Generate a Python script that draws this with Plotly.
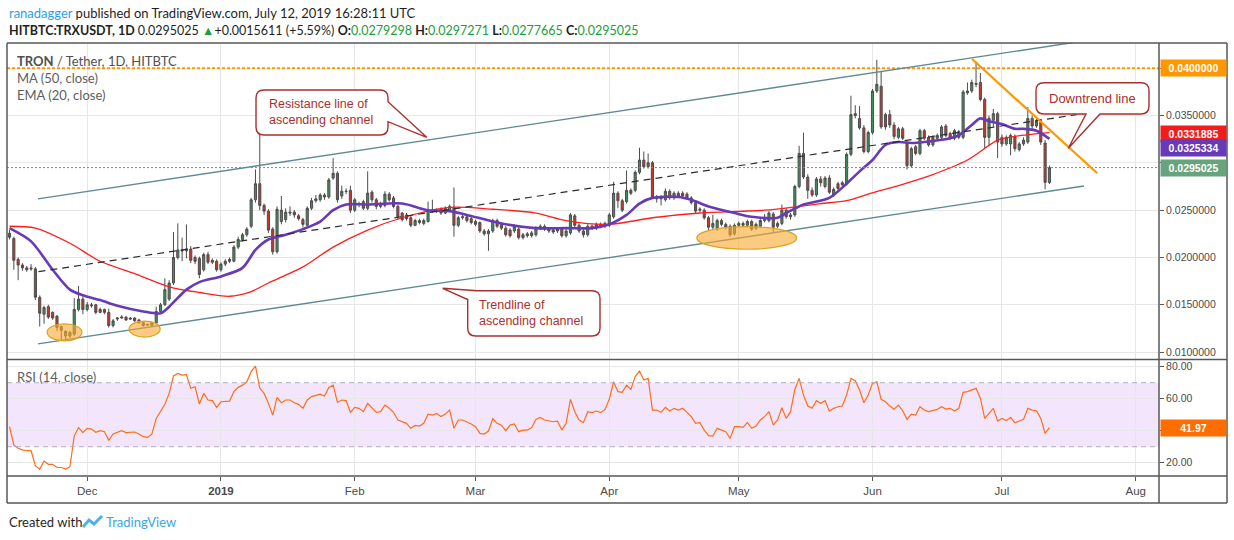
import plotly.graph_objects as go
import pandas as pd

# ---------------- data ----------------
start_date = "2018-11-13"

opens = [
 .02256,.0220,.0198,.0192,.0189,.0189,.0188,.0158,.0140,.0148,
 .0142,.0138,.0127,.0117,.0117,.0119,.0145,.0156,.0145,.0150,
 .0150,.0142,.0145,.0142,.0128,.0135,.0136,.0137,.0136,.0136,
 .0134,.0131,.01292,.0128,.0131,.0143,.0150,.0156,.0173,.0200,
 .0208,.0209,.0209,.0200,.0199,.0187,.0203,.0197,.0196,.0187,
 .0193,.0198,.0196,.0211,.0219,.0224,.0233,.0261,.0278,.0255,
 .0249,.0230,.0206,.0238,.0240,.0248,.0248,.0244,.0240,.0234,
 .0252,.0260,.0261,.0266,.0264,.0284,.0289,.0265,.02702,.0271,
 .0250,.0257,.0259,.0252,.0269,.0261,.0254,.0255,.0267,.0263,
 .0254,.0247,.0245,.0242,.0234,.0239,.0236,.0238,.0250,.0250,
 .0251,.0247,.0250,.0253,.0234,.0242,.0243,.0241,.0238,.0237,
 .0228,.0225,.0228,.0239,.0235,.0231,.0229,.0228,.0230,.0224,
 .0225,.0223,.0224,.0231,.0233,.0230,.0229,.0228,.0230,.0223,
 .0226,.0244,.0234,.0228,.0224,.0233,.0231,.0235,.0236,.0234,
 .0243,.0268,.0260,.0259,.0271,.0271,.0290,.0303,.0296,.0300,
 .0264,.0264,.0261,.0270,.0263,.0268,.0268,.0267,.0263,.0258,
 .0250,.0250,.0242,.0232,.0230,.0239,.0235,.0233,.0225,.0236,
 .0234,.0234,.0238,.0231,.0233,.0239,.0239,.0246,.0233,.0236,
 .0250,.0243,.0245,.0275,.0310,.0285,.0271,.0266,.0283,.0275,
 .0284,.0266,.0278,.0279,.0278,.0309,.0350,.0347,.0337,.0312,
 .0332,.0376,.0381,.0351,.0351,.0340,.0327,.0336,.0321,.0297,
 .0317,.0310,.0334,.0327,.0319,.0326,.0327,.0339,.0331,.0326,
 .0333,.0327,.0374,.0376,.0384,.0385,.0367,.0327,.0345,.0352,
 .0327,.0320,.0320,.0328,.0314,.0320,.0322,.0347,.0339,.0343,
 .0321,.0279298]

closes = [
 .02214,.0197,.0192,.0189,.0187,.0188,.0158,.0141,.0147,.0137,
 .0136,.0126,.0123,.0122,.0121,.0145,.0156,.0145,.0150,.0149,
 .0142,.0145,.0142,.0128,.0133,.0136,.0137,.0134,.0135,.0133,
 .0131,.0128,.01288,.0131,.0143,.0150,.0166,.0173,.0200,.0208,
 .0207,.0207,.0197,.0196,.0182,.0203,.0195,.0195,.0187,.0193,
 .0196,.0196,.0211,.0219,.0224,.0230,.0261,.0278,.0255,.0249,
 .0229,.0206,.0251,.0250,.0248,.0247,.0245,.0241,.0235,.0252,
 .0260,.0262,.0266,.0264,.0282,.0289,.0261,.0270,.02698,.0250,
 .0261,.0256,.0252,.0268,.0261,.0254,.0257,.0267,.0261,.0254,
 .0243,.0240,.0241,.0234,.0239,.0237,.0239,.0250,.0249,.0249,
 .0247,.0252,.0254,.0234,.0242,.0243,.0239,.0237,.0235,.0228,
 .0225,.0228,.0239,.0233,.0231,.0224,.0223,.0233,.0221,.0221,
 .0223,.0226,.0231,.0233,.0230,.0228,.0227,.0230,.0223,.0228,
 .0245,.0234,.0228,.0224,.0233,.0231,.0235,.0233,.0233,.0245,
 .0268,.0260,.0250,.0271,.0268,.0290,.0303,.0296,.0300,.0264,
 .0262,.0262,.0270,.0263,.0268,.0265,.0265,.0263,.0258,.0249,
 .0251,.0242,.0232,.0236,.0239,.0235,.0232,.0224,.0234,.0234,
 .0236,.0238,.0230,.0235,.0239,.0240,.0247,.0232,.0236,.0250,
 .0243,.0245,.0275,.0310,.0285,.0271,.0266,.0283,.0279,.0284,
 .0269,.0272,.0273,.0277,.0309,.0351,.0352,.0337,.0312,.0332,
 .0376,.0383,.0338,.0338,.0340,.0328,.0336,.0326,.0297,.0315,
 .0310,.0334,.0326,.0319,.0327,.0329,.0338,.0329,.0326,.0334,
 .0327,.0375,.0376,.0385,.0383,.0367,.0327,.0347,.0352,.0322,
 .0320,.0327,.0329,.0315,.0320,.0324,.0347,.0339,.0344,.0322,
 .0279414,.0295025]

highs = [
 .0229,.0222,.0200,.0194,.0191,.0193,.0190,.0160,.0149,.0150,
 .0143,.0139,.0128,.0123,.0122,.0157,.0170,.0159,.0153,.0152,
 .0151,.0147,.0146,.0146,.0135,.0137,.0139,.0138,.0137,.0137,
 .0135,.0132,.0130,.0132,.0148,.0152,.0178,.0176,.0227,.0236,
 .0221,.0235,.0212,.0202,.0201,.0205,.0206,.0199,.0198,.0195,
 .0198,.0200,.0213,.0222,.0226,.0232,.0263,.0293,.0344,.0257,
 .0251,.0232,.0254,.0265,.0252,.0254,.0250,.0246,.0242,.0254,
 .0263,.0266,.0268,.0268,.0284,.0305,.0291,.0276,.0273,.0276,
 .0263,.0259,.0261,.0291,.0271,.0263,.0259,.0270,.0269,.0265,
 .0256,.0248,.0247,.0244,.0241,.0241,.0241,.0259,.0261,.0252,
 .0253,.0254,.0256,.0274,.0244,.0245,.0245,.0243,.0240,.0238,
 .0230,.0230,.0241,.0241,.0237,.0233,.0231,.0235,.0232,.0226,
 .0227,.0228,.0233,.0235,.0235,.0232,.0231,.0232,.0232,.0230,
 .0247,.0246,.0236,.0230,.0235,.0235,.0237,.0237,.0238,.0247,
 .0280,.0270,.0262,.0292,.0273,.0292,.0316,.0312,.0310,.0302,
 .0266,.0266,.0273,.0272,.0270,.0270,.0270,.0269,.0265,.0260,
 .0253,.0252,.0244,.0245,.0241,.0241,.0237,.0235,.0236,.0238,
 .0238,.0240,.0240,.0237,.0241,.0246,.0249,.0248,.0238,.0256,
 .0252,.0247,.0277,.0318,.0332,.0288,.0274,.0285,.0286,.0286,
 .0287,.0274,.0280,.0281,.0311,.0371,.0361,.0360,.0340,.0334,
 .0378,.0409,.0397,.0353,.0356,.0343,.0338,.0338,.0323,.0317,
 .0319,.0336,.0336,.0329,.0329,.0331,.0340,.0341,.0333,.0336,
 .0335,.0377,.0385,.0388,.0407,.0395,.0369,.0350,.0357,.0354,
 .0330,.0329,.0331,.0330,.0322,.0327,.0359,.0350,.0347,.0346,
 .0324,.0297271]

lows = [
 .0219,.0187,.0176,.0186,.0185,.0186,.0155,.0127,.0130,.0135,
 .0134,.0122,.0112,.0113,.0115,.0117,.0143,.0140,.0143,.0147,
 .0140,.0141,.0140,.0126,.0126,.0133,.0135,.0133,.0134,.0132,
 .0130,.0127,.0128,.0127,.0130,.0142,.0149,.0154,.0171,.0198,
 .0196,.0199,.0194,.0193,.0178,.0185,.0193,.0193,.0185,.0185,
 .0191,.0194,.0195,.0209,.0217,.0222,.0231,.0258,.0250,.0245,
 .0226,.0203,.0204,.0235,.0237,.0244,.0242,.0239,.0232,.0233,
 .0250,.0258,.0259,.0261,.0262,.0282,.0258,.0262,.0267,.0247,
 .0248,.0253,.0250,.0250,.0258,.0251,.0252,.0253,.0259,.0252,
 .0240,.0238,.0239,.0232,.0233,.0235,.0234,.0237,.0247,.0247,
 .0245,.0246,.0248,.0222,.0232,.0240,.0237,.0235,.0233,.0226,
 .0223,.0207,.0226,.0231,.0229,.0222,.0221,.0226,.0219,.0219,
 .0221,.0221,.0222,.0229,.0228,.0226,.0225,.0226,.0221,.0221,
 .0224,.0232,.0226,.0221,.0222,.0229,.0229,.0231,.0231,.0232,
 .0241,.0252,.0248,.0257,.0266,.0269,.0288,.0294,.0294,.0262,
 .0258,.0255,.0259,.0261,.0261,.0263,.0263,.0261,.0256,.0246,
 .0248,.0240,.0229,.0230,.0228,.0233,.0230,.0222,.0223,.0232,
 .0232,.0232,.0228,.0229,.0231,.0237,.0237,.0227,.0231,.0234,
 .0241,.0240,.0243,.0273,.0283,.0262,.0264,.0264,.0275,.0273,
 .0267,.0264,.0271,.0275,.0276,.0307,.0347,.0335,.0310,.0310,
 .0330,.0374,.0336,.0335,.0337,.0325,.0325,.0324,.0293,.0295,
 .0308,.0308,.0324,.0317,.0317,.0324,.0325,.0327,.0324,.0324,
 .0325,.0325,.0372,.0374,.0380,.0365,.0315,.0318,.0338,.0305,
 .0317,.0318,.0308,.0312,.0312,.0318,.0320,.0336,.0337,.0319,
 .0272,.0277665]

rsi_vals = [
 42.5,31,29,28,27.5,27.5,18,16,21,19,
 19,17,17,16,17.5,36.7,42,38.8,41.5,41,
 39,40,39.4,34,38,39,40,38.8,38.8,39.2,
 38,36.3,35.8,38,47.7,51.9,56.5,63.3,74.2,75.8,
 74.8,75,66.5,67.5,56.7,63.3,59.2,58.8,54.6,58.1,
 58.5,58.5,64.4,67.1,68.5,70.6,76.9,80.4,66.5,63.3,
 57.1,49.8,60.8,57.5,59.2,59.2,57.5,56.5,54,59.2,
 61.3,61.9,62.9,61.7,67.1,68.5,57.7,59.2,58.8,51.5,
 54.6,54,51.9,57.1,54.4,51.5,51.9,56,54,51.5,
 46.7,45.6,44.6,41.5,43.3,42.9,44.6,50.4,49.8,50.8,
 48.8,50.4,52.9,41.5,46.7,46.7,45.6,44.2,42.5,38.3,
 37.9,39.8,47.5,44.6,43.5,40,43.5,44.2,39.4,40.4,
 40.4,41.9,47.1,48.3,46.7,46,45.6,46,40.4,44.6,
 59.6,51.9,46.7,45,51.9,51.3,52.3,51.3,53.3,59.6,
 70.6,64.4,64,68.5,65.8,73.8,77.3,71.7,72.7,52.9,
 52.9,51.5,54.6,52.3,54,52.9,54,51.5,48.8,44.6,
 45,40.4,36.9,36.7,41.5,40.4,39.4,35.2,42.5,42.5,
 42.1,45.2,41.5,42.9,46.7,48.8,51.9,43.5,46.7,54.4,
 47.7,51.9,65.8,72.7,62.3,55.4,54,58.8,57.1,58.8,
 52.3,54,55,55.4,62.3,72.7,71.3,65.4,57.5,62.3,
 69.6,70.6,59.6,58.1,55.4,53.5,56,52.5,47.1,50.4,
 49.8,55,52.9,51.9,52.5,53.3,55,53.5,54,52.3,
 54,64,64.4,65.4,66.5,60.2,47.7,50.8,54,46,
 47.7,46.3,48.3,45,46,47.1,54,52.9,52.5,47.7,
 38.3,41.97]

ema20_dates = ['2018-11-13','2018-11-18','2018-11-23','2018-11-27','2018-11-30','2018-12-04','2018-12-08',
 '2018-12-14','2018-12-18','2018-12-20','2018-12-24','2018-12-27','2019-01-01','2019-01-06','2019-01-09',
 '2019-01-12','2019-01-16','2019-01-20','2019-01-24','2019-01-27','2019-01-30','2019-02-04','2019-02-12',
 '2019-02-18','2019-02-23','2019-02-27','2019-03-07','2019-03-15','2019-03-22','2019-03-28','2019-04-01',
 '2019-04-05','2019-04-08','2019-04-11','2019-04-17','2019-04-20','2019-04-24','2019-04-30','2019-05-04',
 '2019-05-10','2019-05-12','2019-05-16','2019-05-18','2019-05-22','2019-05-26','2019-05-29','2019-06-01',
 '2019-06-04','2019-06-07','2019-06-10','2019-06-13','2019-06-19','2019-06-21','2019-06-24','2019-06-26',
 '2019-06-28','2019-07-01','2019-07-04','2019-07-06','2019-07-09','2019-07-12']
ema20_vals = [.0231,.0217,.0187,.0166,.0160,.0155,.0149,.0143,.0141,.0148,.0166,.0174,.0180,.0189,.0208,
 .0219,.0224,.0230,.0238,.0250,.0256,.0256,.0257,.0250,.0249,.0245,.0236,.0231,.0231,.0231,.0235,
 .0245,.0257,.0263,.0264,.0261,.0254,.0247,.0243,.0242,.0247,.0256,.0258,.0263,.0278,.0291,.0303,
 .0319,.0322,.0321,.0322,.0326,.0329,.0340,.0347,.0344,.0341,.0336,.0336,.0334,.0325334]

ma50_dates = ['2018-11-13','2018-11-19','2018-11-27','2018-12-04','2018-12-12','2018-12-20','2018-12-27',
 '2019-01-03','2019-01-08','2019-01-12','2019-01-20','2019-01-27','2019-02-04','2019-02-12','2019-02-23',
 '2019-03-05','2019-03-15','2019-03-22','2019-04-01','2019-04-11','2019-04-22','2019-05-07','2019-05-15',
 '2019-05-20','2019-05-26','2019-05-31','2019-06-07','2019-06-14','2019-06-23','2019-06-30','2019-07-04',
 '2019-07-12']
ma50_vals = [.0233,.0231,.0215,.0196,.0183,.0169,.0163,.0159,.0164,.0173,.0190,.0211,.0229,.0242,.0253,
 .0251,.0247,.0239,.0235,.0242,.0247,.0250,.0254,.0257,.0260,.0267,.0276,.0286,.0303,.0324,.0328,
 .0331885]

# drawn channel / trend lines (dates, prices)
channel_dates = ['2018-11-19 14:00', '2019-07-20 00:00']
channel_upper = [.02619, .04289]
channel_lower = [.01087, .02756]
midline_dates = ['2018-11-19 17:00', '2019-07-18 07:00']
midline_vals = [.0185, .0351]
downtrend_dates = ['2019-06-24 02:00', '2019-07-23 02:00']
downtrend_vals = [.04098, .0289]
ellipse_boxes = [  # (date0, date1, price_low, price_high)
    ('2018-11-21 17:00', '2018-11-29 19:00', .01119, .01299),
    ('2018-12-10 17:00', '2018-12-17 22:00', .01159, .01328),
    ('2019-04-21 07:00', '2019-05-14 10:00', .02087, .02326),
]
level_resist = 0.04
last_price = 0.0295025
ma50_last = 0.0331885
ema20_last = 0.0325334
rsi_last = 41.97

month_ticks = ['2018-12-01','2019-01-01','2019-02-01','2019-03-01','2019-04-01',
               '2019-05-01','2019-06-01','2019-07-01','2019-08-01']
month_labels = ['Dec','<b>2019</b>','Feb','Mar','Apr','May','Jun','Jul','Aug']
price_ticks = [0.01,0.015,0.02,0.025,0.03,0.035,0.04]
price_labels = ['0.0100000','0.0150000','0.0200000','0.0250000','','0.0350000','']
rsi_ticks = [20,40,60,80]
rsi_labels = ['20.00','','60.00','80.00']

dates = pd.date_range(start_date, periods=len(closes), freq='D')

# ---------------- layout helpers (pixel -> paper) ----------------
W, H = 1234, 540
L, R, T, B = 7, 75, 43, 64
PW, PH = W - L - R, H - T - B
def px(x): return (x - L) / PW
def py(y): return (H - B - y) / PH
def P(x, y): return f"{px(x):.5f},{py(y):.5f}"

FR = '#575757'
GRID = '#e7e7e7'
TXT = '#4a4a4a'
CALL = '#a8302f'
FONT = 'Liberation Sans'

fig = go.Figure()

fig.add_trace(go.Candlestick(
    x=dates, open=opens, high=highs, low=lows, close=closes,
    increasing=dict(fillcolor='#3f8f5d', line=dict(color='#4d4d4d', width=1)),
    decreasing=dict(fillcolor='#c8372b', line=dict(color='#4d4d4d', width=1)),
    whiskerwidth=0, hoverinfo='skip', showlegend=False, xaxis='x', yaxis='y'))

fig.add_trace(go.Scatter(x=ma50_dates, y=ma50_vals, mode='lines',
    line=dict(color='#ff1d1d', width=1.3, shape='spline', smoothing=0.8),
    hoverinfo='skip', showlegend=False, xaxis='x', yaxis='y'))
fig.add_trace(go.Scatter(x=ema20_dates, y=ema20_vals, mode='lines',
    line=dict(color='#673ab7', width=2.6, shape='spline', smoothing=0.8),
    hoverinfo='skip', showlegend=False, xaxis='x', yaxis='y'))

fig.add_trace(go.Scatter(x=dates, y=rsi_vals, mode='lines',
    line=dict(color='#ff6d1a', width=1.2),
    hoverinfo='skip', showlegend=False, xaxis='x2', yaxis='y2'))

xr = ['2018-11-12 10:00', '2019-08-06 09:30']

fig.update_layout(
    width=W, height=H, margin=dict(l=L, r=R, t=T, b=B),
    paper_bgcolor='white', plot_bgcolor='white', showlegend=False,
    font=dict(family=FONT, color=TXT),
    xaxis=dict(domain=[0, 1], anchor='y', type='date', range=xr,
               tickvals=month_ticks, showticklabels=False, ticks='',
               showgrid=True, gridcolor=GRID, gridwidth=1, zeroline=False,
               showline=False, rangeslider=dict(visible=False)),
    xaxis2=dict(domain=[0, 1], anchor='y2', type='date', range=xr, matches='x',
                tickvals=month_ticks, ticktext=month_labels, ticks='outside',
                ticklen=4, tickcolor=FR, tickfont=dict(size=11.5, color=TXT, family=FONT),
                showgrid=True, gridcolor=GRID, gridwidth=1, zeroline=False, showline=False),
    yaxis=dict(domain=[(476 - 359) / PH, 1], anchor='x', side='right',
               range=[0.00927, 0.04267], tickvals=price_ticks, ticktext=price_labels,
               ticks='outside', ticklen=4, tickcolor=FR,
               tickfont=dict(size=10.5, color=TXT, family=FONT),
               showgrid=True, gridcolor=GRID, zeroline=False, showline=False),
    yaxis2=dict(domain=[0, (476 - 360) / PH], anchor='x2', side='right',
                range=[11.7, 84.2], tickvals=rsi_ticks, ticktext=rsi_labels,
                ticks='outside', ticklen=4, tickcolor=FR,
                tickfont=dict(size=10.5, color=TXT, family=FONT),
                showgrid=True, gridcolor=GRID, zeroline=False, showline=False),
)

shapes = []
# RSI band
shapes.append(dict(type='rect', xref='x2 domain', yref='y2', x0=0, x1=1, y0=30, y1=70,
                   fillcolor='#f3e6fc', line=dict(width=0), layer='below'))
for lv in (30, 70):
    shapes.append(dict(type='line', xref='x2 domain', yref='y2', x0=0, x1=1, y0=lv, y1=lv,
                       line=dict(color='#b4adbb', width=1, dash='5px,4px')))
# channel fill
shapes.append(dict(type='path', xref='x', yref='y', layer='below',
    path=f"M {channel_dates[0]},{channel_lower[0]} L {channel_dates[1]},{channel_lower[1]} "
         f"L {channel_dates[1]},{channel_upper[1]} L {channel_dates[0]},{channel_upper[0]} Z",
    fillcolor='rgba(110,125,150,0.10)', line=dict(width=0)))
# horizontal levels
shapes.append(dict(type='line', xref='x domain', yref='y', x0=0, x1=1, y0=last_price, y1=last_price,
                   line=dict(color='#4ea56f', width=1, dash='2px,2px')))
shapes.append(dict(type='line', xref='x domain', yref='y', x0=0, x1=1, y0=level_resist, y1=level_resist,
                   line=dict(color='#ff9800', width=2, dash='3px,2px')))
# channel lines and midline
for yy in (channel_upper, channel_lower):
    shapes.append(dict(type='line', xref='x', yref='y', x0=channel_dates[0], x1=channel_dates[1],
                       y0=yy[0], y1=yy[1], line=dict(color='#5e8a94', width=1.4)))
shapes.append(dict(type='line', xref='x', yref='y', x0=midline_dates[0], x1=midline_dates[1],
                   y0=midline_vals[0], y1=midline_vals[1],
                   line=dict(color='#2b2b2b', width=1.2, dash='7px,5px')))
# ellipses
for d0, d1, p0, p1 in ellipse_boxes:
    shapes.append(dict(type='circle', xref='x', yref='y', x0=d0, x1=d1, y0=p0, y1=p1,
                       fillcolor='rgba(250,170,50,0.62)', line=dict(color='#d9a520', width=1.2)))
# downtrend line
shapes.append(dict(type='line', xref='x', yref='y', x0=downtrend_dates[0], x1=downtrend_dates[1],
                   y0=downtrend_vals[0], y1=downtrend_vals[1], line=dict(color='#ff9800', width=2.2)))

# callout boxes (paper)
res_path = (f"M {P(264,90)} L {P(380,90)} Q {P(388,90)} {P(388,98)} L {P(388,101.7)} "
            f"L {P(426.7,137.3)} L {P(388,121.7)} L {P(388,127)} Q {P(388,135)} {P(380,135)} "
            f"L {P(264,135)} Q {P(256,135)} {P(256,127)} L {P(256,98)} Q {P(256,90)} {P(264,90)} Z")
tr_path = (f"M {P(477,290.7)} L {P(592,290.7)} Q {P(600,290.7)} {P(600,298.7)} L {P(600,328)} "
           f"Q {P(600,336)} {P(592,336)} L {P(475.7,336)} Q {P(467.7,336)} {P(467.7,328)} "
           f"L {P(467.7,299.5)} L {P(442.7,288.3)} L {P(477,290.7)} Z")
dt_path = (f"M {P(1044,82.7)} L {P(1141,82.7)} Q {P(1149,82.7)} {P(1149,90.7)} L {P(1149,106)} "
           f"Q {P(1149,114)} {P(1141,114)} L {P(1100,114)} L {P(1068.3,148.3)} L {P(1086,114)} "
           f"L {P(1044,114)} Q {P(1036,114)} {P(1036,106)} L {P(1036,90.7)} Q {P(1036,82.7)} {P(1044,82.7)} Z")
for pth in (res_path, tr_path, dt_path):
    shapes.append(dict(type='path', xref='paper', yref='paper', path=pth,
                       fillcolor='white', line=dict(color=CALL, width=1.4)))

# frame lines
def hline(y, x0=7, x1=1227):
    return dict(type='line', xref='paper', yref='paper', x0=px(x0), x1=px(x1), y0=py(y), y1=py(y),
                line=dict(color=FR, width=1.5))
def vline(x, y0=43, y1=503):
    return dict(type='line', xref='paper', yref='paper', x0=px(x), x1=px(x), y0=py(y0), y1=py(y1),
                line=dict(color=FR, width=1.5))
shapes += [hline(43), hline(359.5), hline(476), hline(503), vline(7), vline(1159), vline(1227)]
# TradingView logo mark
shapes.append(dict(type='path', xref='paper', yref='paper',
                   path=f"M {P(83,527)} L {P(89,520)} L {P(94,524)} L {P(102,516)}",
                   line=dict(color='#4db2e8', width=3)))
fig.update_layout(shapes=shapes)

ann = []
def text(x, y, s, size=13, color='#1f1f1f', anchor='left', family='Lato', **kw):
    ann.append(dict(xref='paper', yref='paper', x=px(x), y=py(y), text=s, showarrow=False,
                    xanchor=anchor, yanchor='middle', font=dict(size=size, color=color, family=family), **kw))

G = '#1d9c3b'
text(7, 13, "<span style='color:#2d9fea'>ranadagger</span> published on TradingView.com, July 12, 2019 16:28:11 UTC", 13)
text(7, 30, f"<b>HITBTC:TRXUSDT, 1D</b> 0.0295025 <span style='color:{G}'>▲</span>+0.0015611 (+5.59%) "
            f"<b>O:</b><span style='color:{G}'>0.0279298</span> <b>H:</b><span style='color:{G}'>0.0297271</span> "
            f"<b>L:</b><span style='color:{G}'>0.0277665</span> <b>C:</b><span style='color:{G}'>0.0295025</span>", 12.5)
text(15, 61, "<b>TRON</b> / Tether, 1D, HITBTC", 13, '#505050')
text(15, 78, "MA (50, close)", 13, '#606060')
text(15, 95, "EMA (20, close)", 13, '#606060')
text(15, 377, "RSI (14, close)", 13, '#606060')
text(7, 522, "Created with", 13, '#1f1f1f')
text(104, 522, "TradingView", 13, '#3aa6e2')

# callout texts
text(267, 111.5, "Resistance line of<br>ascending channel", 12.5, CALL, family=FONT, align='left')
text(477, 312.5, "Trendline of<br>ascending channel", 12.5, CALL, family=FONT, align='left')
text(1092.5, 98, "Downtrend line", 13, CALL, anchor='center', family=FONT)

# right axis value boxes
def tag(yv, s, bg, yref='y', yshift=0):
    ann.append(dict(xref='paper', yref=yref, x=1.0, y=yv, xanchor='left', yanchor='middle',
                    text=f"<b>{s}</b>", showarrow=False, xshift=1, yshift=yshift,
                    bgcolor=bg, width=65, height=16, borderpad=0, align='center',
                    font=dict(size=10.5, color='white', family=FONT)))
tag(level_resist, f"{level_resist:.7f}", '#ff9800')
tag(ma50_last, f"{ma50_last:.7f}", '#f21c1c', yshift=-1)
tag(ema20_last, f"{ema20_last:.7f}", '#673ab7', yshift=-9)
tag(last_price, f"{last_price:.7f}", '#66a47e')
tag(rsi_last, f"{rsi_last:.2f}", '#ff6d00', yref='y2')
fig.update_layout(annotations=ann)

fig.write_html("out.html", config={'displayModeBar': False, 'staticPlot': True})

# remove the default page margin so the figure sits at the window's top-left corner
with open("out.html", "r", encoding="utf-8") as f:
    html = f.read()
html = html.replace("<head>", "<head><style>html,body{margin:0;padding:0;overflow:hidden;}</style>", 1)
with open("out.html", "w", encoding="utf-8") as f:
    f.write(html)
